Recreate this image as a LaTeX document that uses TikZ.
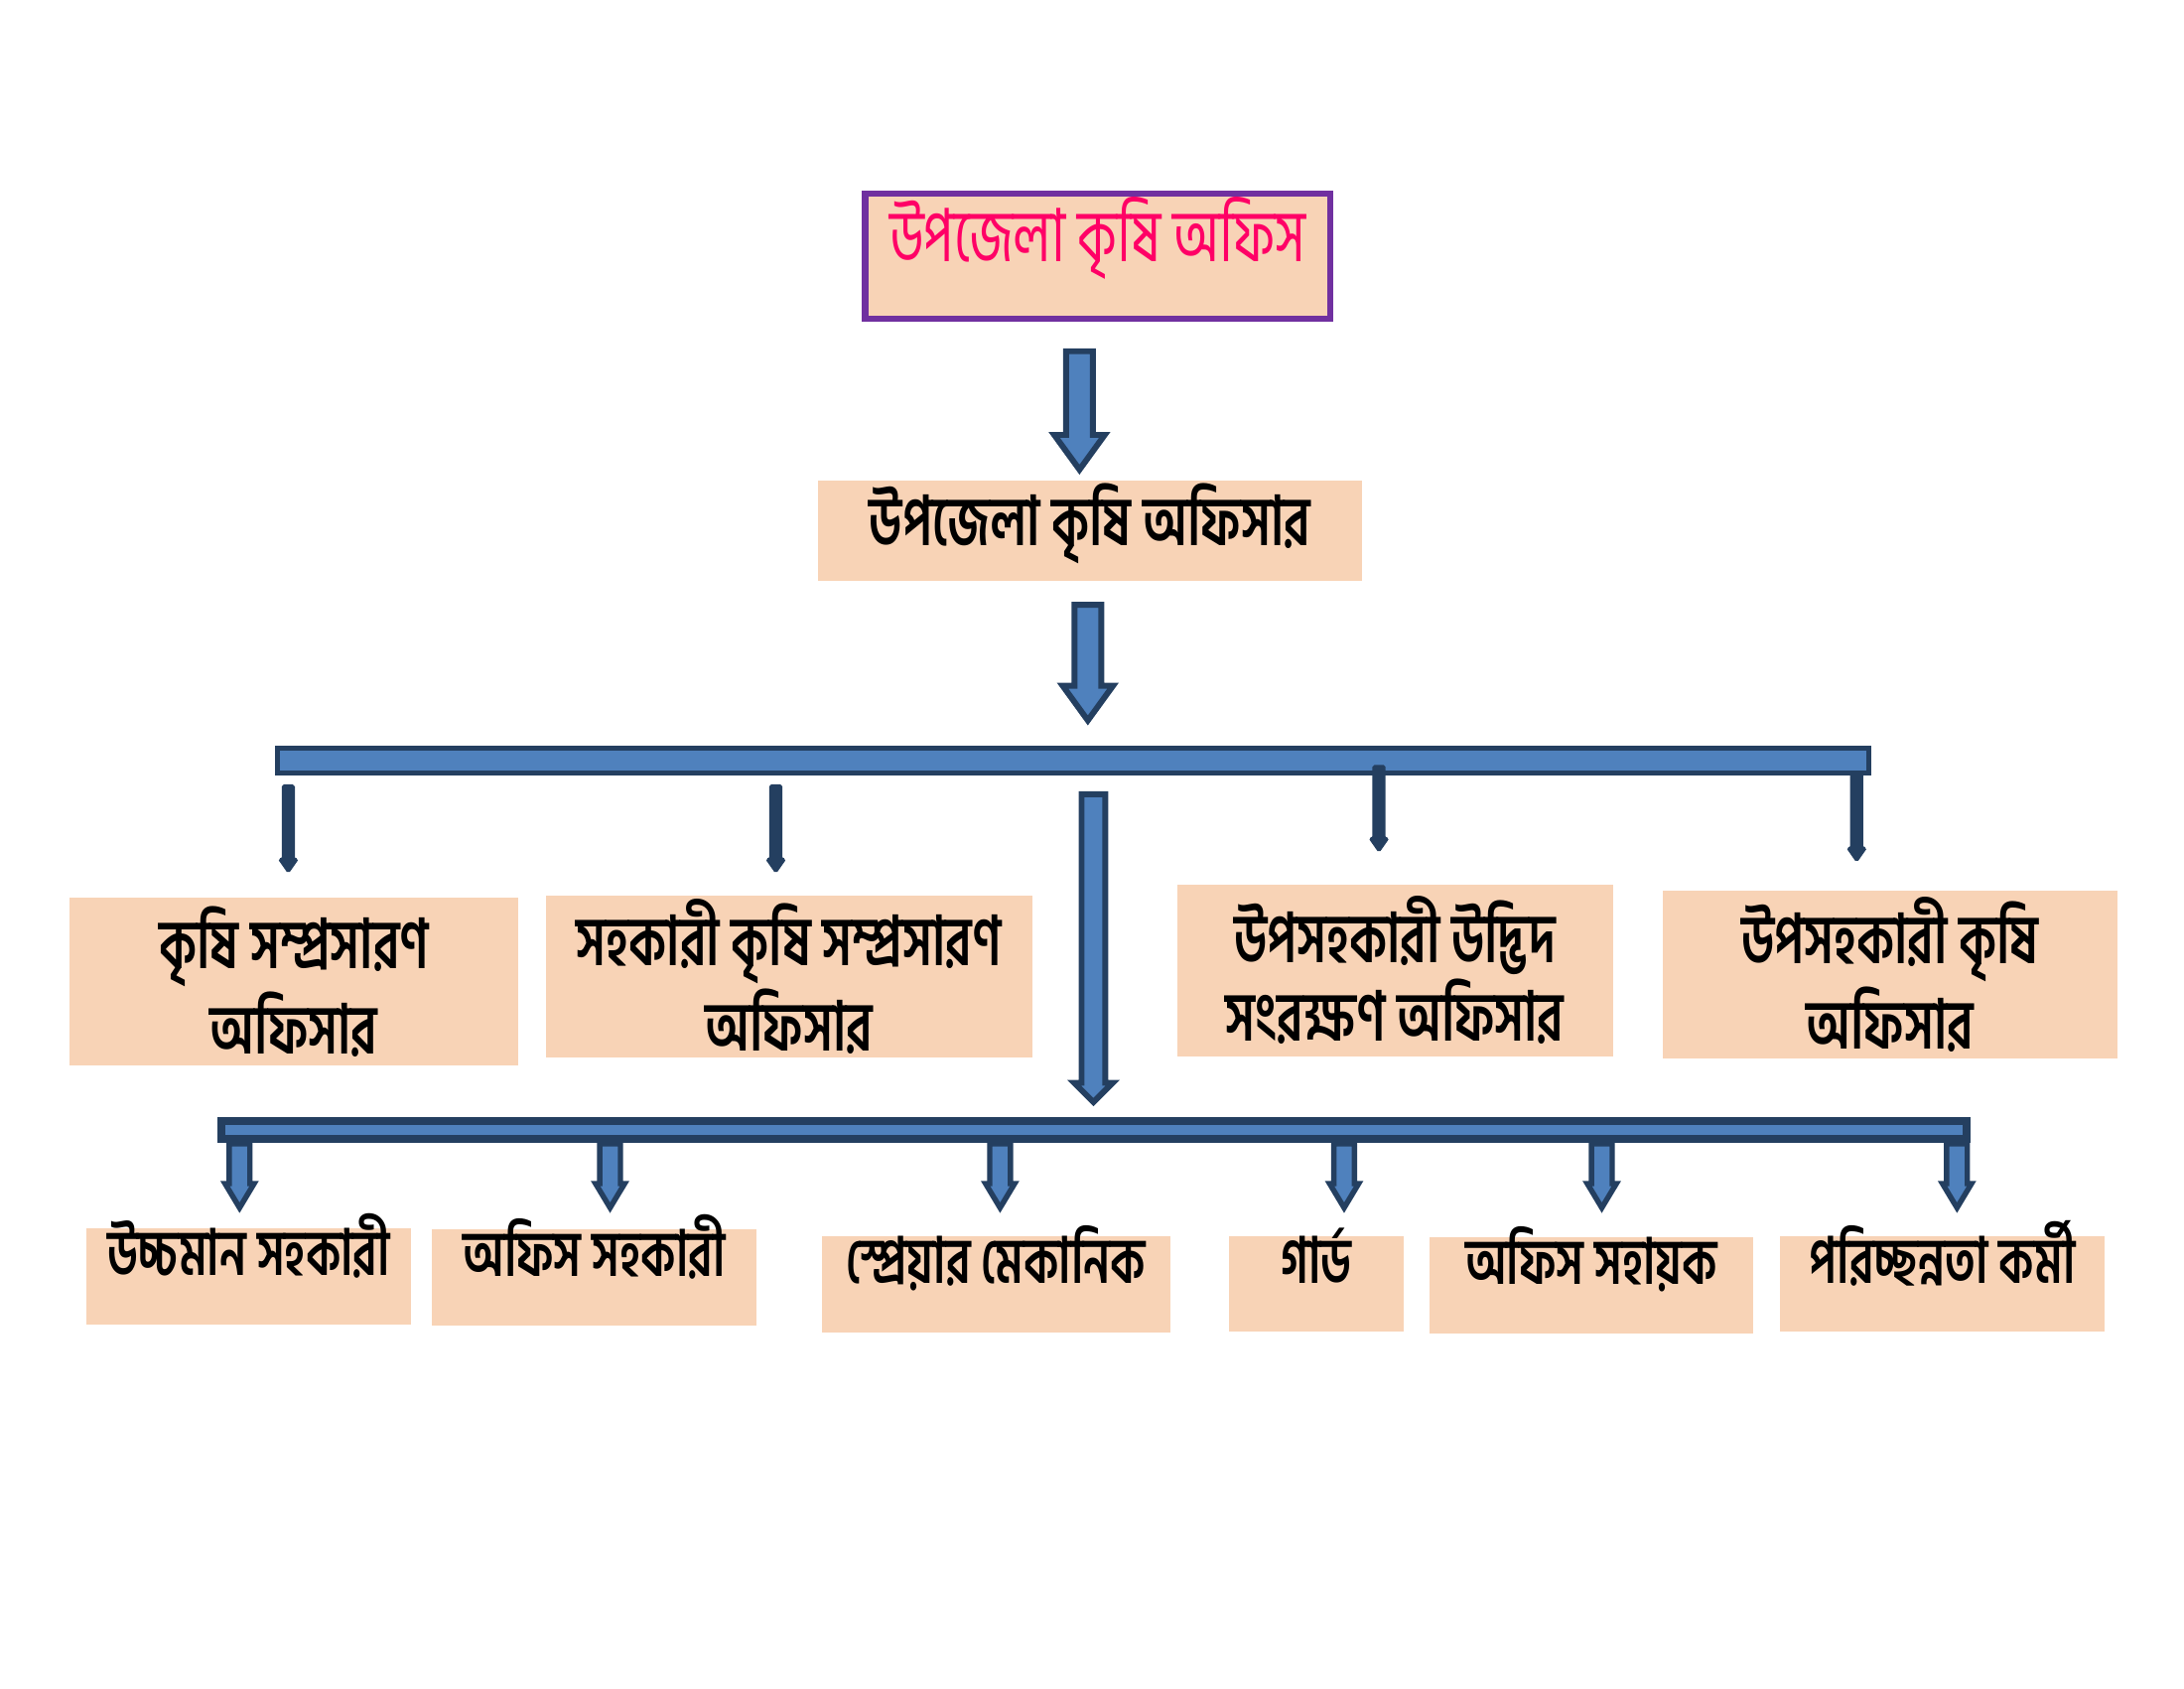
\documentclass[tikz,border=0pt]{standalone}
\usepackage{fontspec}
\newfontfamily\bangla[Script=Bengali,FakeStretch=0.72]{Hind Siliguri}
\usetikzlibrary{positioning, shapes.arrows}
\definecolor{peach}{HTML}{F8D3B6}
\definecolor{barblue}{HTML}{4F81BD}
\definecolor{bardark}{HTML}{243F60}
\definecolor{framepurple}{HTML}{7030A0}
\definecolor{titlepink}{HTML}{FF0066}

\begin{document}
\begin{tikzpicture}[
    postbox/.style={fill=peach, inner sep=0pt, align=center, font=\bangla\bfseries\fontsize{14}{16}\selectfont},
    postline/.style={fill=peach, inner sep=0pt, anchor=base},
    bar/.style={rectangle, fill=barblue, draw=bardark, line width=1pt, inner sep=0pt},
    fatarrow/.style={single arrow, rotate=-90, anchor=tail, fill=barblue, draw=bardark, line width=1.2pt,
      inner sep=0.075cm, single arrow head extend=0.085cm, single arrow tip angle=72},
    midarrow/.style={fatarrow, line width=1.1pt, inner sep=0.055cm, single arrow head extend=0.03cm, single arrow tip angle=62},
    thinarrow/.style={single arrow, rotate=-90, anchor=tail, fill=bardark, draw=bardark, line width=0.5pt,
      inner sep=0.03cm, single arrow head extend=0.025cm, single arrow tip angle=70, rounded corners=0.3pt}
  ]
  \useasboundingbox (0,0) rectangle (15.68,12.12);

  % top of the office
  \node[postline, draw=framepurple, line width=1.3pt, text=titlepink, minimum width=3.34cm,
    text height=0.49cm, text depth=0.41cm, font=\bangla\fontsize{15}{18}\selectfont] (office) at (7.88,10.24) {উপজেলা কৃষি অফিস};
  \node[fatarrow, minimum height=0.85cm] (a1) at (7.75,9.62) {};
  \node[postline, minimum width=3.91cm, text height=0.47cm, text depth=0.25cm,
    font=\bangla\bfseries\fontsize{14}{18}\selectfont] (uao) at (7.825,8.20) {উপজেলা কৃষি অফিসার};
  \node[fatarrow, minimum height=0.83cm] (a2) at (7.81,7.80) {};

  % officers
  \node[bar, minimum width=11.43cm, minimum height=0.18cm] (bar1) at (7.705,6.66) {};
  \node[thinarrow, minimum height=0.62cm] at (2.07,6.49) {};
  \node[thinarrow, minimum height=0.62cm] at (5.57,6.49) {};
  \node[thinarrow, minimum height=0.61cm] at (9.90,6.63) {};
  \node[thinarrow, minimum height=0.62cm] at (13.33,6.57) {};
  \node[fatarrow, minimum height=2.21cm, inner sep=0.064cm, single arrow head extend=0.054cm, single arrow tip angle=90] (a3) at (7.85,6.44) {};

  \node[postbox, minimum width=3.22cm, minimum height=1.21cm] (aeo) at (2.11,5.075) {কৃষি সম্প্রসারণ\\অফিসার};
  \node[postbox, minimum width=3.49cm, minimum height=1.16cm] (aaeo) at (5.665,5.11) {সহকারী কৃষি সম্প্রসারণ\\অফিসার};
  \node[postbox, minimum width=3.13cm, minimum height=1.23cm] (sappo) at (10.015,5.155) {উপসহকারী উদ্ভিদ\\সংরক্ষণ অফিসার};
  \node[postbox, minimum width=3.26cm, minimum height=1.21cm] (saao) at (13.57,5.125) {উপসহকারী কৃষি\\অফিসার};

  % staff
  \node[bar, minimum width=12.53cm, minimum height=0.13cm, line width=1.6pt] (bar2) at (7.855,4.01) {};
  \foreach \x in {1.72, 4.38, 7.18, 9.65, 11.50, 14.05}
    \node[midarrow, minimum height=0.46cm] at (\x,3.93) {};

  \tikzset{staff/.style={postline, text height=0.34cm, text depth=0.35cm, font=\bangla\bfseries\fontsize{13}{16}\selectfont}}
  \node[staff, minimum width=2.33cm] (uda) at (1.785,2.965) {উচ্চমান সহকারী};
  \node[staff, minimum width=2.33cm] (oa) at (4.265,2.955) {অফিস সহকারী};
  \node[staff, minimum width=2.50cm] (sm) at (7.15,2.905) {স্প্রেয়ার মেকানিক};
  \node[staff, minimum width=1.26cm] (guard) at (9.45,2.91) {গার্ড};
  \node[staff, minimum width=2.33cm] (os) at (11.425,2.90) {অফিস সহায়ক};
  \node[staff, minimum width=2.33cm] (cw) at (13.945,2.91) {পরিচ্ছন্নতা কর্মী};
\end{tikzpicture}
\end{document}
